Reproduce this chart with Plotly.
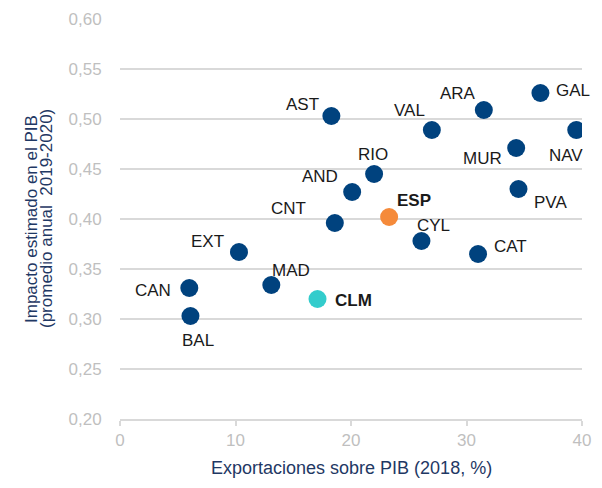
import plotly.graph_objects as go

regions = ["AST", "ARA", "GAL", "VAL", "NAV", "MUR", "RIO", "AND", "PVA", "ESP",
           "CNT", "CYL", "CAT", "EXT", "MAD", "CAN", "BAL", "CLM"]
exports = [18.3, 31.5, 36.4, 27.0, 39.5, 34.3, 22.0, 20.1, 34.5, 23.3,
           18.6, 26.1, 31.0, 10.3, 13.1, 6.0, 6.1, 17.1]
impact = [0.503, 0.509, 0.526, 0.489, 0.489, 0.471, 0.445, 0.427, 0.430, 0.402,
          0.396, 0.378, 0.365, 0.367, 0.334, 0.331, 0.303, 0.320]

# label offsets in pixels (dx right, dy up)
offsets = {
    "AST": (-29, 12), "ARA": (-26, 17), "GAL": (33, 3), "VAL": (-22, 20),
    "NAV": (-10, -25), "MUR": (-34, -10), "RIO": (-1, 20), "AND": (-32, 16),
    "PVA": (32, -13), "ESP": (25, 17), "CNT": (-46, 15), "CYL": (12, 16),
    "CAT": (32, 8), "EXT": (-31, 11), "MAD": (20, 15), "CAN": (-36, -2),
    "BAL": (8, -24), "CLM": (36, -1),
}

colors = []
for r in regions:
    if r == "ESP":
        colors.append("#F58A3A")
    elif r == "CLM":
        colors.append("#33CCCC")
    else:
        colors.append("#00427E")

FONT = "Liberation Sans, Arial, sans-serif"
NAVY = "#1F3864"

fig = go.Figure()
fig.add_trace(go.Scatter(x=exports, y=impact, mode="markers",
                         marker=dict(size=18, color=colors, line=dict(width=0)),
                         showlegend=False, hoverinfo="skip"))

annotations = []
for r, x, y in zip(regions, exports, impact):
    dx, dy = offsets[r]
    bold = r in ("ESP", "CLM")
    annotations.append(dict(
        x=x, y=y, xref="x", yref="y", showarrow=False,
        text=f"<b>{r}</b>" if bold else r,
        xshift=dx, yshift=dy,
        font=dict(size=17, color="#1A1A1A", family=FONT),
    ))

# axis titles as separate annotations (tight line spacing on the y title)
annotations += [
    dict(text="Exportaciones sobre PIB (2018, %)", xref="paper", yref="paper",
         x=0.5, y=0, yanchor="middle", yshift=-49, showarrow=False,
         font=dict(size=18, color=NAVY)),
    dict(text="Impacto estimado en el PIB", xref="paper", yref="paper",
         x=0, y=0.5, xanchor="center", yanchor="middle", xshift=-89,
         textangle=-90, showarrow=False, font=dict(size=17, color=NAVY)),
    dict(text="(promedio anual  2019-2020)", xref="paper", yref="paper",
         x=0, y=0.5, xanchor="center", yanchor="middle", xshift=-74,
         textangle=-90, showarrow=False, font=dict(size=17, color=NAVY)),
]

fig.update_layout(
    width=594, height=480,
    margin=dict(l=112, r=20, t=11, b=69, autoexpand=False),
    paper_bgcolor="white", plot_bgcolor="white",
    font=dict(family=FONT, size=17),
    annotations=annotations,
    xaxis=dict(range=[0, 40], dtick=10, showgrid=False, zeroline=False,
               showline=True, linecolor="#D9D9D9", linewidth=2, automargin=False,
               ticks="outside", ticklen=5, tickcolor="#D9D9D9", tickwidth=1.5,
               tickfont=dict(size=17, color="#BFBFBF")),
    yaxis=dict(range=[0.2, 0.6], dtick=0.05, tickformat=".2f", automargin=False,
               showgrid=True, gridcolor="#D9D9D9", gridwidth=2, zeroline=False,
               ticks="outside", ticklen=14, tickcolor="rgba(0,0,0,0)",
               tickfont=dict(size=17, color="#BFBFBF")),
    separators=",.",
)

fig.write_html("out.html")
